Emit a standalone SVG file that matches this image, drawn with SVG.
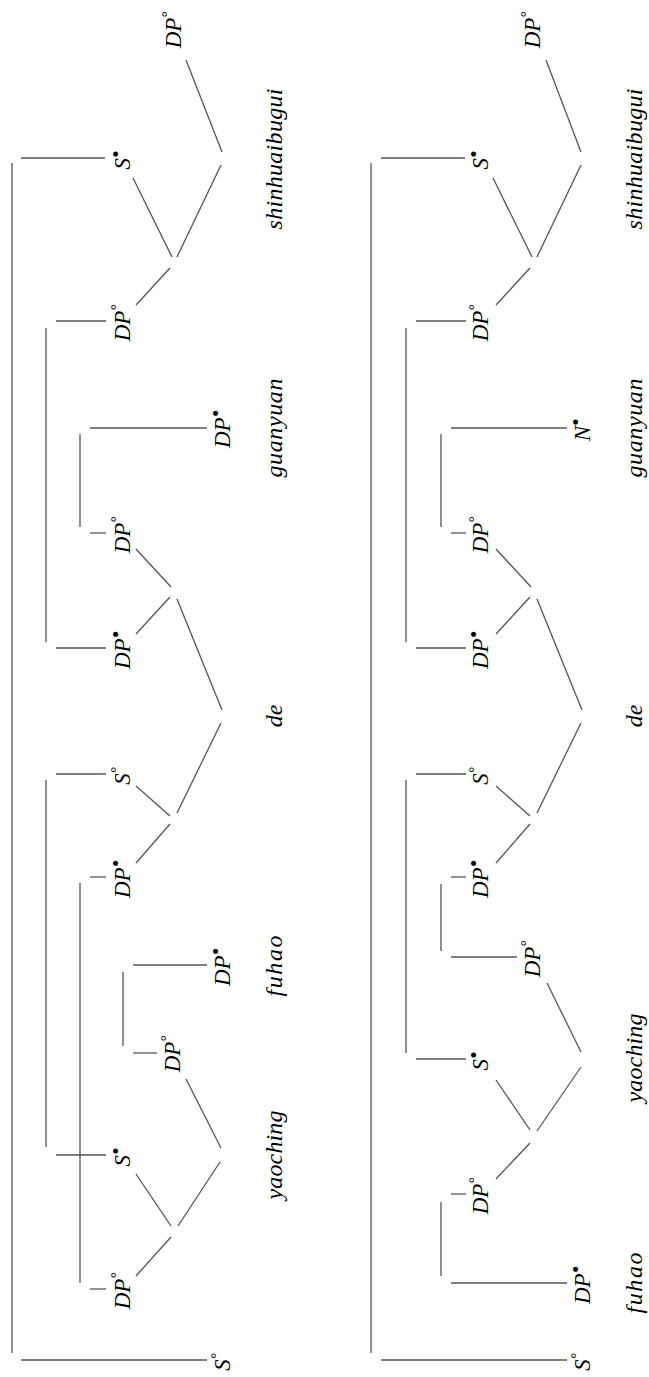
<svg xmlns="http://www.w3.org/2000/svg" width="649" height="1377" viewBox="0 0 649 1377">
<style>
.l{font-family:"Liberation Serif","DejaVu Serif",serif;font-style:italic;font-size:23px;fill:#000;text-anchor:middle}
.w{font-size:24px}
.s{font-size:15px}
.b{font-size:21px}
.c line{stroke:#555;stroke-width:1.3;fill:none}
</style>
<rect width="649" height="1377" fill="#fff"/>
<g id="connectors" class="c">
<line x1="12" y1="163" x2="12" y2="1353"/><line x1="21" y1="158" x2="105" y2="158"/><line x1="21" y1="1360" x2="207" y2="1360"/>
<line x1="46" y1="328" x2="46" y2="642"/><line x1="56" y1="321" x2="106" y2="321"/><line x1="56" y1="648" x2="106" y2="648"/>
<line x1="80" y1="434" x2="80" y2="527"/><line x1="90" y1="428" x2="207" y2="428"/><line x1="90" y1="533" x2="106" y2="533"/>
<line x1="46" y1="780" x2="46" y2="1147"/><line x1="56" y1="774" x2="106" y2="774"/><line x1="56" y1="1155" x2="106" y2="1155"/>
<line x1="80" y1="883" x2="80" y2="1283"/><line x1="90" y1="877" x2="106" y2="877"/><line x1="90" y1="1289" x2="106" y2="1289"/>
<line x1="123" y1="972" x2="123" y2="1046"/><line x1="133" y1="965" x2="207" y2="965"/><line x1="133" y1="1053" x2="157" y2="1053"/>
<line x1="186" y1="60" x2="222" y2="152"/>
<line x1="221" y1="165" x2="177" y2="257"/>
<line x1="133" y1="178" x2="172" y2="257"/>
<line x1="170" y1="268" x2="136" y2="305"/>
<line x1="136" y1="549" x2="171" y2="587"/>
<line x1="170" y1="597" x2="136" y2="634"/>
<line x1="177" y1="599" x2="222" y2="710"/>
<line x1="221" y1="723" x2="177" y2="813"/>
<line x1="136" y1="786" x2="170" y2="816"/>
<line x1="170" y1="824" x2="136" y2="863"/>
<line x1="186" y1="1079" x2="221" y2="1148"/>
<line x1="220" y1="1162" x2="178" y2="1226"/>
<line x1="136" y1="1174" x2="171" y2="1226"/>
<line x1="171" y1="1237" x2="136" y2="1276"/>
<line x1="371" y1="163" x2="371" y2="1353"/><line x1="381" y1="158" x2="465" y2="158"/><line x1="381" y1="1360" x2="567" y2="1360"/>
<line x1="406" y1="328" x2="406" y2="642"/><line x1="416" y1="321" x2="466" y2="321"/><line x1="416" y1="648" x2="466" y2="648"/>
<line x1="441" y1="434" x2="441" y2="527"/><line x1="451" y1="428" x2="567" y2="428"/><line x1="451" y1="533" x2="466" y2="533"/>
<line x1="406" y1="780" x2="406" y2="1053"/><line x1="416" y1="774" x2="466" y2="774"/><line x1="416" y1="1059" x2="466" y2="1059"/>
<line x1="441" y1="884" x2="441" y2="951"/><line x1="451" y1="877" x2="466" y2="877"/><line x1="451" y1="957" x2="517" y2="957"/>
<line x1="441" y1="1202" x2="441" y2="1276"/><line x1="451" y1="1194" x2="466" y2="1194"/><line x1="451" y1="1283" x2="567" y2="1283"/>
<line x1="546" y1="60" x2="581" y2="152"/>
<line x1="581" y1="165" x2="537" y2="257"/>
<line x1="493" y1="178" x2="532" y2="257"/>
<line x1="530" y1="268" x2="496" y2="305"/>
<line x1="496" y1="549" x2="531" y2="587"/>
<line x1="530" y1="597" x2="496" y2="634"/>
<line x1="537" y1="599" x2="582" y2="710"/>
<line x1="581" y1="723" x2="537" y2="813"/>
<line x1="496" y1="786" x2="530" y2="816"/>
<line x1="530" y1="824" x2="496" y2="863"/>
<line x1="547" y1="983" x2="581" y2="1052"/>
<line x1="581" y1="1067" x2="537" y2="1131"/>
<line x1="496" y1="1080" x2="530" y2="1130"/>
<line x1="530" y1="1143" x2="496" y2="1179"/>
</g>
<g id="L_DP_top"><text class="l" transform="translate(181,30) rotate(-90)">DP<tspan class="s" dy="-9">°</tspan></text></g>
<g id="L_S_b1"><text class="l" transform="translate(130,160) rotate(-90)">S<tspan class="b" dy="-7">•</tspan></text></g>
<g id="L_DP_o1"><text class="l" transform="translate(130,323) rotate(-90)">DP<tspan class="s" dy="-9">°</tspan></text></g>
<g id="L_DP_b_guanyuan"><text class="l" transform="translate(230,429) rotate(-90)">DP<tspan class="b" dy="-7">•</tspan></text></g>
<g id="L_DP_o2"><text class="l" transform="translate(130,535) rotate(-90)">DP<tspan class="s" dy="-9">°</tspan></text></g>
<g id="L_DP_b2"><text class="l" transform="translate(130,650) rotate(-90)">DP<tspan class="b" dy="-7">•</tspan></text></g>
<g id="L_S_o1"><text class="l" transform="translate(130,776) rotate(-90)">S<tspan class="s" dy="-9">°</tspan></text></g>
<g id="L_DP_b3"><text class="l" transform="translate(130,879) rotate(-90)">DP<tspan class="b" dy="-7">•</tspan></text></g>
<g id="L_DP_b_fuhao"><text class="l" transform="translate(230,967) rotate(-90)">DP<tspan class="b" dy="-7">•</tspan></text></g>
<g id="L_DP_o3"><text class="l" transform="translate(180,1054) rotate(-90)">DP<tspan class="s" dy="-9">°</tspan></text></g>
<g id="L_S_b2"><text class="l" transform="translate(130,1157) rotate(-90)">S<tspan class="b" dy="-7">•</tspan></text></g>
<g id="L_DP_o4"><text class="l" transform="translate(130,1291) rotate(-90)">DP<tspan class="s" dy="-9">°</tspan></text></g>
<g id="L_S_root"><text class="l" transform="translate(230,1362) rotate(-90)">S<tspan class="s" dy="-9">°</tspan></text></g>
<g id="L_w_shinhuaibugui"><text class="l w" transform="translate(282,159) rotate(-90)" textLength="141" lengthAdjust="spacing">shinhuaibugui</text></g>
<g id="L_w_guanyuan"><text class="l w" transform="translate(282,428) rotate(-90)" textLength="99" lengthAdjust="spacing">guanyuan</text></g>
<g id="L_w_de"><text class="l w" transform="translate(282,716) rotate(-90)">de</text></g>
<g id="L_w_fuhao"><text class="l w" transform="translate(282,966) rotate(-90)" textLength="61" lengthAdjust="spacing">fuhao</text></g>
<g id="L_w_yaoching"><text class="l w" transform="translate(282,1155) rotate(-90)" textLength="89" lengthAdjust="spacing">yaoching</text></g>
<g id="R_DP_top"><text class="l" transform="translate(540,30) rotate(-90)">DP<tspan class="s" dy="-9">°</tspan></text></g>
<g id="R_S_b1"><text class="l" transform="translate(488,160) rotate(-90)">S<tspan class="b" dy="-7">•</tspan></text></g>
<g id="R_DP_o1"><text class="l" transform="translate(488,323) rotate(-90)">DP<tspan class="s" dy="-9">°</tspan></text></g>
<g id="R_N_b_guanyuan"><text class="l" transform="translate(590,430) rotate(-90)">N<tspan class="b" dy="-7">•</tspan></text></g>
<g id="R_DP_o2"><text class="l" transform="translate(488,535) rotate(-90)">DP<tspan class="s" dy="-9">°</tspan></text></g>
<g id="R_DP_b2"><text class="l" transform="translate(488,650) rotate(-90)">DP<tspan class="b" dy="-7">•</tspan></text></g>
<g id="R_S_o1"><text class="l" transform="translate(488,776) rotate(-90)">S<tspan class="s" dy="-9">°</tspan></text></g>
<g id="R_DP_b3"><text class="l" transform="translate(488,879) rotate(-90)">DP<tspan class="b" dy="-7">•</tspan></text></g>
<g id="R_DP_o3"><text class="l" transform="translate(540,959) rotate(-90)">DP<tspan class="s" dy="-9">°</tspan></text></g>
<g id="R_S_b2"><text class="l" transform="translate(488,1061) rotate(-90)">S<tspan class="b" dy="-7">•</tspan></text></g>
<g id="R_DP_o4"><text class="l" transform="translate(488,1196) rotate(-90)">DP<tspan class="s" dy="-9">°</tspan></text></g>
<g id="R_DP_b_fuhao"><text class="l" transform="translate(590,1285) rotate(-90)">DP<tspan class="b" dy="-7">•</tspan></text></g>
<g id="R_S_root"><text class="l" transform="translate(590,1362) rotate(-90)">S<tspan class="s" dy="-9">°</tspan></text></g>
<g id="R_w_shinhuaibugui"><text class="l w" transform="translate(642,159) rotate(-90)" textLength="141" lengthAdjust="spacing">shinhuaibugui</text></g>
<g id="R_w_guanyuan"><text class="l w" transform="translate(642,428) rotate(-90)" textLength="99" lengthAdjust="spacing">guanyuan</text></g>
<g id="R_w_de"><text class="l w" transform="translate(642,716) rotate(-90)">de</text></g>
<g id="R_w_yaoching"><text class="l w" transform="translate(642,1058) rotate(-90)" textLength="89" lengthAdjust="spacing">yaoching</text></g>
<g id="R_w_fuhao"><text class="l w" transform="translate(642,1283) rotate(-90)" textLength="61" lengthAdjust="spacing">fuhao</text></g>
</svg>
